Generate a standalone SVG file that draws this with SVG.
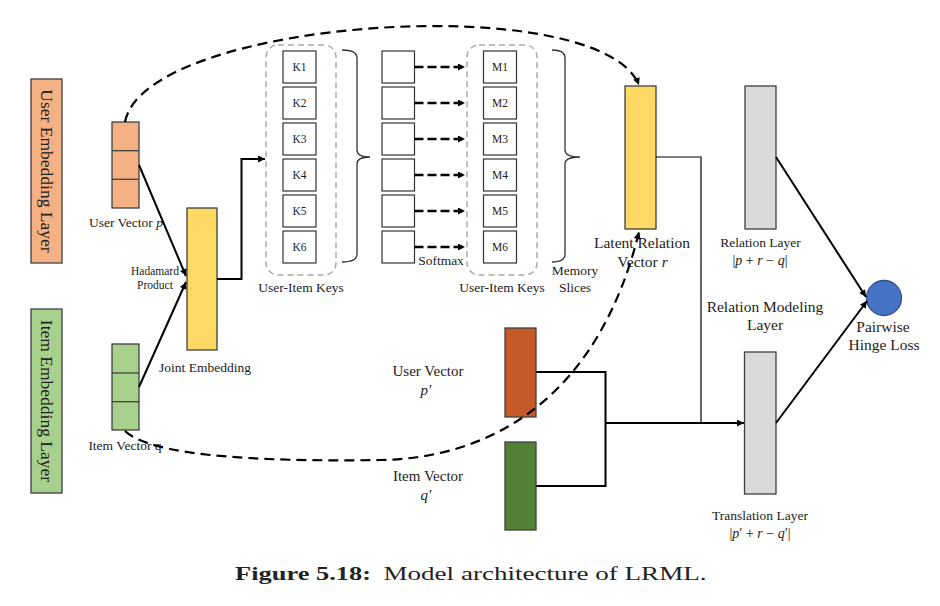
<svg xmlns="http://www.w3.org/2000/svg" width="940" height="606" viewBox="0 0 940 606">
<defs>
<marker id="ah" viewBox="0 0 10 10" refX="10" refY="5" markerWidth="8" markerHeight="7" markerUnits="userSpaceOnUse" orient="auto"><path d="M0,0 L10,5 L0,10 z" fill="#000"/></marker>
</defs>
<style>
text{font-family:"Liberation Serif","Times New Roman",serif;fill:#222}
.box{stroke:#404040;stroke-width:1.3}
.cell{fill:#fff;stroke:#333;stroke-width:1.2}
.grp{fill:none;stroke:#aaa;stroke-width:1.5;stroke-dasharray:6,4}
.thick{fill:none;stroke:#000;stroke-width:2}
.thin{fill:none;stroke:#000;stroke-width:1.2}
.dash{fill:none;stroke:#000;stroke-width:2.2;stroke-dasharray:10,6}
.sdash{fill:none;stroke:#000;stroke-width:2.4;stroke-dasharray:9,4}
.brace{fill:none;stroke:#333;stroke-width:1.3}
.c{text-anchor:middle}
.k{font-size:11.5px}
.i{font-style:italic}
</style>
<rect width="940" height="606" fill="#fff"/>

<g id="user-embedding-layer">
<rect x="31" y="79" width="31" height="184" fill="#F4B183" class="box"/>
<text transform="translate(46.5,171) rotate(90)" y="6" class="c" font-size="17.5">User Embedding Layer</text>
</g>
<g id="item-embedding-layer">
<rect x="31" y="309" width="31" height="184" fill="#A9D18E" class="box"/>
<text transform="translate(46.5,401) rotate(90)" y="6" class="c" font-size="17.5">Item Embedding Layer</text>
</g>

<g id="user-vector-p">
<rect x="112" y="122" width="27" height="86" fill="#F4B183" class="box"/>
<line x1="112" y1="150.7" x2="139" y2="150.7" class="box"/>
<line x1="112" y1="179.3" x2="139" y2="179.3" class="box"/>
<text x="126" y="227" class="c" font-size="13.5">User Vector <tspan class="i">p</tspan></text>
</g>
<g id="item-vector-q">
<rect x="112" y="344" width="27" height="86" fill="#A9D18E" class="box"/>
<line x1="112" y1="373" x2="139" y2="373" class="box"/>
<line x1="112" y1="401.7" x2="139" y2="401.7" class="box"/>
<text x="125" y="450" class="c" font-size="13.5">Item Vector q</text>
</g>

<g id="joint-embedding">
<rect x="187" y="208" width="30" height="142" fill="#FFD966" class="box"/>
<text x="205" y="372" class="c" font-size="13.5">Joint Embedding</text>
<text x="155" y="275" class="c" font-size="11.5">Hadamard</text>
<text x="155" y="288.5" class="c" font-size="11.5">Product</text>
</g>

<g id="user-item-keys">
<rect x="266" y="45" width="70" height="230" rx="12" class="grp"/>
<rect x="283" y="51" width="33" height="32" class="cell"/><text x="299.5" y="71" class="c k">K1</text>
<rect x="283" y="87" width="33" height="32" class="cell"/><text x="299.5" y="107" class="c k">K2</text>
<rect x="283" y="123" width="33" height="32" class="cell"/><text x="299.5" y="143" class="c k">K3</text>
<rect x="283" y="159" width="33" height="32" class="cell"/><text x="299.5" y="179" class="c k">K4</text>
<rect x="283" y="195" width="33" height="32" class="cell"/><text x="299.5" y="215" class="c k">K5</text>
<rect x="283" y="231" width="33" height="32" class="cell"/><text x="299.5" y="251" class="c k">K6</text>
<path d="M342,50 Q357,50 357,58 L357,150 Q357,157 370,157 Q357,157 357,164 L357,254 Q357,262 342,262" class="brace"/>
<text x="301" y="292" class="c" font-size="13.5">User-Item Keys</text>
</g>

<g id="softmax">
<rect x="382" y="51" width="32.5" height="32" class="cell"/>
<rect x="382" y="87" width="32.5" height="32" class="cell"/>
<rect x="382" y="123" width="32.5" height="32" class="cell"/>
<rect x="382" y="159" width="32.5" height="32" class="cell"/>
<rect x="382" y="195" width="32.5" height="32" class="cell"/>
<rect x="382" y="231" width="32.5" height="32" class="cell"/>
<text x="441" y="265" class="c" font-size="13.5">Softmax</text>
</g>

<g id="memory-slices">
<rect x="467" y="45" width="70" height="230" rx="12" class="grp"/>
<rect x="483.5" y="51" width="33" height="32" class="cell"/><text x="500" y="71" class="c k">M1</text>
<rect x="483.5" y="87" width="33" height="32" class="cell"/><text x="500" y="107" class="c k">M2</text>
<rect x="483.5" y="123" width="33" height="32" class="cell"/><text x="500" y="143" class="c k">M3</text>
<rect x="483.5" y="159" width="33" height="32" class="cell"/><text x="500" y="179" class="c k">M4</text>
<rect x="483.5" y="195" width="33" height="32" class="cell"/><text x="500" y="215" class="c k">M5</text>
<rect x="483.5" y="231" width="33" height="32" class="cell"/><text x="500" y="251" class="c k">M6</text>
<path d="M552,50 Q565,50 565,58 L565,150 Q565,157 580,157 Q565,157 565,164 L565,254 Q565,262 552,262" class="brace"/>
<text x="502" y="292" class="c" font-size="13.5">User-Item Keys</text>
<text x="575" y="275" class="c" font-size="13.5">Memory</text>
<text x="575" y="292" class="c" font-size="13.5">Slices</text>
</g>

<g id="latent-relation-vector">
<rect x="625" y="86" width="31" height="143" fill="#FFD966" class="box"/>
<text x="642" y="248" class="c" font-size="15.5">Latent Relation</text>
<text x="642.5" y="266.5" class="c" font-size="15.5">Vector <tspan class="i">r</tspan></text>
</g>

<g id="relation-layer">
<rect x="745" y="86" width="31" height="143" fill="#DADADA" class="box"/>
<text x="760.5" y="246.5" class="c" font-size="13.5">Relation Layer</text>
<text x="760" y="265" class="c" font-size="14">|<tspan class="i">p</tspan> + <tspan class="i">r</tspan> − <tspan class="i">q</tspan>|</text>
</g>

<g id="relation-modeling-label">
<text x="765" y="311.5" class="c" font-size="15.5">Relation Modeling</text>
<text x="765" y="330" class="c" font-size="15.5">Layer</text>
</g>

<g id="translation-layer">
<rect x="744.5" y="352" width="31.5" height="142" fill="#DADADA" class="box"/>
<text x="760" y="520" class="c" font-size="13.5">Translation Layer</text>
<text x="760" y="538" class="c" font-size="14">|<tspan class="i">p</tspan>′ + <tspan class="i">r</tspan> − <tspan class="i">q</tspan>′|</text>
</g>

<g id="pairwise-hinge-loss">
<circle cx="884" cy="298" r="17.5" fill="#4472C4" stroke="#2F528F" stroke-width="1.3"/>
<text x="883" y="331.5" class="c" font-size="15.5">Pairwise</text>
<text x="884" y="350" class="c" font-size="15.5">Hinge Loss</text>
</g>

<g id="user-vector-p-prime">
<rect x="505" y="328" width="31" height="89" fill="#C55A28" class="box"/>
<text x="428" y="376" class="c" font-size="15">User Vector</text>
<text x="426" y="395" class="c i" font-size="15">p′</text>
</g>
<g id="item-vector-q-prime">
<rect x="505" y="442" width="31" height="88" fill="#538135" class="box"/>
<text x="428" y="481" class="c" font-size="15">Item Vector</text>
<text x="426" y="500" class="c i" font-size="15">q′</text>
</g>

<g id="connectors">
<line x1="139" y1="165" x2="186" y2="276" class="thick" marker-end="url(#ah)"/>
<line x1="139" y1="387" x2="186" y2="282" class="thick" marker-end="url(#ah)"/>
<polyline points="217,279 241.5,279 241.5,159 265,159" class="thick" marker-end="url(#ah)"/>
<line x1="414.5" y1="67" x2="465" y2="67" class="sdash" marker-end="url(#ah)"/>
<line x1="414.5" y1="103" x2="465" y2="103" class="sdash" marker-end="url(#ah)"/>
<line x1="414.5" y1="139" x2="465" y2="139" class="sdash" marker-end="url(#ah)"/>
<line x1="414.5" y1="175" x2="465" y2="175" class="sdash" marker-end="url(#ah)"/>
<line x1="414.5" y1="211" x2="465" y2="211" class="sdash" marker-end="url(#ah)"/>
<line x1="414.5" y1="247" x2="465" y2="247" class="sdash" marker-end="url(#ah)"/>
<path d="M125,122 C145,18 600,-12 639,85" class="dash" marker-end="url(#ah)"/>
<path d="M125,431 C150,455 250,462 380,460 C500,458 600,390 639,232" class="dash" marker-end="url(#ah)"/>
<polyline points="656,157 701,157 701,423" class="thin"/>
<polyline points="536,372 605.5,372 605.5,486 536,486" class="thick"/>
<line x1="605.5" y1="423" x2="744" y2="423" class="thick" marker-end="url(#ah)"/>
<line x1="776" y1="157" x2="866" y2="297" class="thick" marker-end="url(#ah)"/>
<line x1="776" y1="423" x2="867" y2="301" class="thick" marker-end="url(#ah)"/>
</g>

<g id="caption">
<text x="235" y="580" font-size="19" font-weight="bold" textLength="136" lengthAdjust="spacingAndGlyphs">Figure 5.18:</text>
<text x="383.5" y="580" font-size="19" textLength="323" lengthAdjust="spacingAndGlyphs">Model architecture of LRML.</text>
</g>
</svg>
